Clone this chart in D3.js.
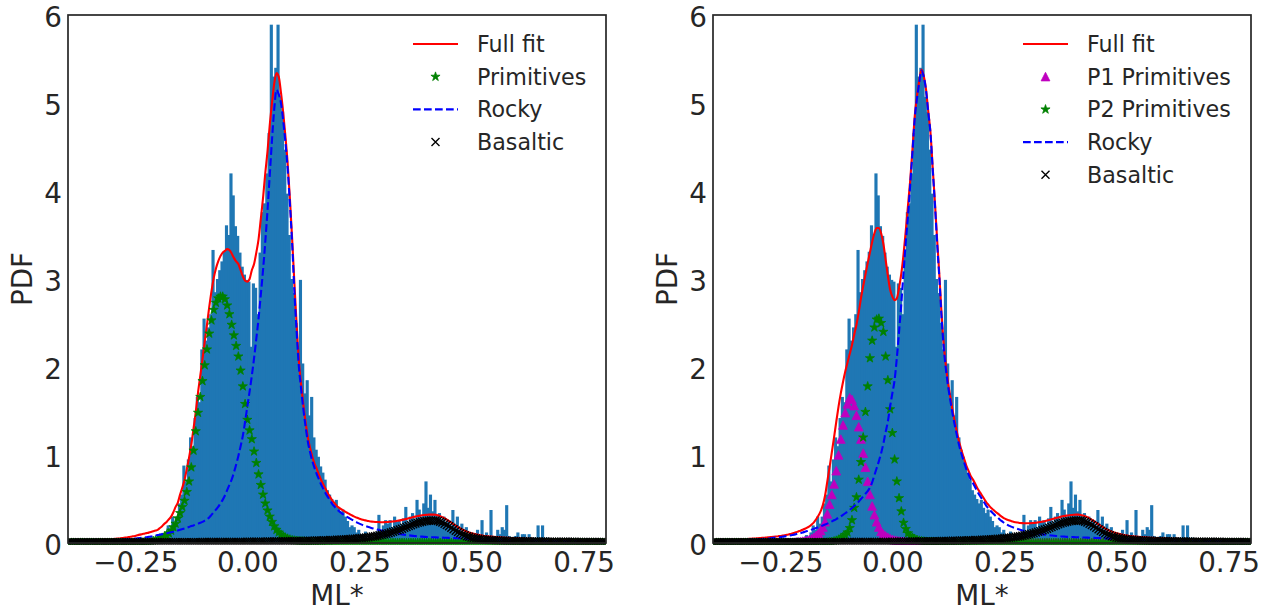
<!DOCTYPE html>
<html>
<head>
<meta charset="utf-8">
<script src="https://cdn.jsdelivr.net/npm/d3@7"></script>
<style>
  body { margin: 0; background: #fff; }
  svg text { font-family: "DejaVu Sans", sans-serif; fill: #262626; }
</style>
</head>
<body>
<svg id="chart" width="1274" height="615"></svg>
<script>
// axes
const xDomain = [-0.4, 0.8];
const yDomain = [0, 6];
const xTicks = [-0.25, 0, 0.25, 0.5, 0.75];
const yTicks = [0, 1, 2, 3, 4, 5, 6];

// histogram of ML* (density), bins of 0.005 starting at -0.225, same sample in both panels
const binStart = -0.225;
const binWidth = 0.005;
const mlDensity = [
  0.03, 0, 0.06, 0.05, 0, 0.06, 0.09, 0.06, 0.12, 0.2, 0.15, 0.3, 0.22, 0.3, 0.45, 0.55, 0.88, 0.7, 0.95, 1.2,
  1.1, 1.42, 1.66, 1.6, 2.2, 2.55, 2.3, 2.45, 2.6, 3.33, 2.85, 3.0, 3.1, 3.2, 3.31, 3.61, 3.5, 4.2, 3.95, 3.6,
  3.49, 3.3, 3.14, 3.05, 2.99, 2.97, 2.23, 2.95, 2.9, 2.6, 3.3, 3.76, 3.86, 4.2, 4.66, 5.89, 5.3, 5.4, 5.89, 5.07,
  4.9, 4.47, 3.97, 3.5, 3.0, 2.84, 2.5, 2.2, 2.99, 2.04, 1.7, 1.85, 1.45, 1.66, 1.2, 1.06, 0.98, 0.87, 0.8, 0.72,
  0.6, 0.55, 0.5, 0.45, 0.49, 0.4, 0.34, 0.38, 0.3, 0.25, 0.18, 0.2, 0.18, 0.12, 0.15, 0.1, 0.08, 0.13, 0.06, 0.1,
  0.08, 0.05, 0.12, 0.32, 0.1, 0.2, 0.26, 0.22, 0.26, 0.18, 0.3, 0.24, 0.26, 0.2, 0.28, 0.41, 0.22, 0.3, 0.34, 0.26,
  0.49, 0.38, 0.3, 0.45, 0.7, 0.4, 0.55, 0.36, 0.49, 0.3, 0.34, 0.25, 0.3, 0.22, 0.26, 0.18, 0.375, 0.2, 0.3, 0.15,
  0.22, 0.1, 0.18, 0.08, 0.12, 0.06, 0.1, 0.15, 0.08, 0.26, 0.06, 0.12, 0.06, 0.375, 0.08, 0.06, 0.15, 0.1, 0.18, 0.15,
  0.43, 0.08, 0.06, 0.03, 0.08, 0.12, 0.06, 0.1, 0.1, 0.06, 0.1, 0.03, 0.06, 0.03, 0.2, 0.03, 0.2, 0.03, 0.06, 0.03,
  0,
];

// fitted curves, sampled every 0.005 from -0.4 to 0.8 (one row = 0.1 in ML*)
const curveStart = -0.4;
const curveStep = 0.005;

// left panel
const fullFitA = [
  0.02, 0.021, 0.022, 0.023, 0.024, 0.025, 0.026, 0.027, 0.028, 0.029, 0.03, 0.031, 0.032, 0.033, 0.035, 0.036, 0.038, 0.039, 0.041, 0.043,
  0.045, 0.047, 0.05, 0.052, 0.055, 0.06, 0.063, 0.067, 0.071, 0.076, 0.08, 0.088, 0.095, 0.1, 0.106, 0.112, 0.118, 0.125, 0.133, 0.141,
  0.15, 0.17, 0.19, 0.22, 0.24, 0.27, 0.3, 0.35, 0.41, 0.46, 0.55, 0.63, 0.72, 0.84, 0.97, 1.12, 1.3, 1.49, 1.71, 1.9,
  2.09, 2.29, 2.48, 2.68, 2.86, 3.01, 3.12, 3.2, 3.26, 3.3, 3.32, 3.34, 3.33, 3.29, 3.24, 3.2, 3.17, 3.1, 3.03, 2.98,
  2.97, 3.0, 3.1, 3.17, 3.3, 3.45, 3.68, 3.92, 4.2, 4.45, 4.75, 5.0, 5.22, 5.34, 5.3, 5.12, 4.89, 4.62, 4.31, 3.91,
  3.45, 2.95, 2.48, 2.07, 1.8, 1.57, 1.37, 1.2, 1.08, 0.98, 0.9, 0.84, 0.77, 0.71, 0.66, 0.61, 0.56, 0.52, 0.48, 0.45,
  0.419, 0.4, 0.382, 0.365, 0.35, 0.336, 0.323, 0.31, 0.297, 0.286, 0.276, 0.268, 0.261, 0.255, 0.249, 0.245, 0.242, 0.239, 0.238, 0.237,
  0.236, 0.237, 0.238, 0.24, 0.242, 0.245, 0.248, 0.252, 0.257, 0.263, 0.268, 0.274, 0.281, 0.288, 0.294, 0.3, 0.306, 0.311, 0.315, 0.318,
  0.32, 0.322, 0.323, 0.323, 0.32, 0.314, 0.305, 0.294, 0.281, 0.265, 0.249, 0.231, 0.213, 0.196, 0.18, 0.165, 0.151, 0.139, 0.129, 0.12,
  0.111, 0.104, 0.098, 0.093, 0.088, 0.084, 0.08, 0.077, 0.074, 0.072, 0.07, 0.067, 0.065, 0.064, 0.062, 0.06, 0.059, 0.057, 0.056, 0.055,
  0.053, 0.053, 0.051, 0.051, 0.049, 0.049, 0.047, 0.047, 0.046, 0.045, 0.044, 0.043, 0.043, 0.042, 0.041, 0.04, 0.04, 0.04, 0.038, 0.038,
  0.037, 0.037, 0.036, 0.035, 0.035, 0.035, 0.034, 0.033, 0.033, 0.033, 0.032, 0.032, 0.031, 0.031, 0.03, 0.03, 0.03, 0.03, 0.029, 0.028,
  0.028,
];
const primitivesA = [
  0, 0, 0, 0, 0, 0, 0, 0, 0, 0, 0, 0, 0, 0, 0, 0, 0, 0, 0, 0,
  0, 0, 0, 0, 0, 0.001, 0.001, 0.002, 0.002, 0.003, 0.004, 0.005, 0.006, 0.008, 0.01, 0.012, 0.015, 0.019, 0.024, 0.03,
  0.04, 0.05, 0.06, 0.075, 0.09, 0.11, 0.14, 0.18, 0.22, 0.28, 0.34, 0.41, 0.48, 0.58, 0.7, 0.86, 1.05, 1.27, 1.48, 1.66,
  1.84, 2.02, 2.2, 2.38, 2.53, 2.65, 2.73, 2.78, 2.8, 2.8, 2.77, 2.7, 2.6, 2.48, 2.36, 2.24, 2.12, 1.96, 1.78, 1.58,
  1.4, 1.28, 1.18, 1.04, 0.91, 0.78, 0.66, 0.55, 0.45, 0.37, 0.3, 0.24, 0.19, 0.15, 0.12, 0.095, 0.075, 0.06, 0.05, 0.04,
  0.032, 0.028, 0.024, 0.021, 0.018, 0.016, 0.014, 0.012, 0.011, 0.01, 0.009, 0.008, 0.007, 0.006, 0.006, 0.005, 0.005, 0.004, 0.004, 0.004,
  0.003, 0.003, 0.003, 0.003, 0.003, 0.003, 0.003, 0.003, 0.003, 0.003, 0.002, 0.002, 0.002, 0.002, 0.002, 0.002, 0.002, 0.002, 0.002, 0.002,
  0.002, 0.002, 0.002, 0.002, 0.002, 0.002, 0.002, 0.002, 0.002, 0.002, 0.001, 0.001, 0.001, 0.001, 0.001, 0.001, 0.001, 0.001, 0.001, 0.001,
  0.001, 0.001, 0.001, 0.001, 0.001, 0.001, 0.001, 0.001, 0.001, 0.001, 0.001, 0.001, 0.001, 0.001, 0.001, 0.001, 0.001, 0.001, 0.001, 0.001,
  0, 0, 0, 0, 0, 0, 0, 0, 0, 0, 0, 0, 0, 0, 0, 0, 0, 0, 0, 0,
  0, 0, 0, 0, 0, 0, 0, 0, 0, 0, 0, 0, 0, 0, 0, 0, 0, 0, 0, 0,
  0, 0, 0, 0, 0, 0, 0, 0, 0, 0, 0, 0, 0, 0, 0, 0, 0, 0, 0, 0,
  0,
];
const rockyA = [
  0.012, 0.012, 0.013, 0.013, 0.014, 0.014, 0.015, 0.016, 0.016, 0.017, 0.018, 0.019, 0.02, 0.021, 0.022, 0.023, 0.024, 0.025, 0.027, 0.028,
  0.03, 0.031, 0.033, 0.035, 0.037, 0.039, 0.041, 0.043, 0.045, 0.048, 0.05, 0.053, 0.056, 0.059, 0.062, 0.066, 0.07, 0.074, 0.079, 0.084,
  0.09, 0.095, 0.1, 0.105, 0.11, 0.116, 0.122, 0.128, 0.135, 0.142, 0.15, 0.158, 0.166, 0.174, 0.183, 0.192, 0.2, 0.21, 0.22, 0.23,
  0.24, 0.255, 0.27, 0.29, 0.32, 0.35, 0.38, 0.41, 0.45, 0.49, 0.54, 0.6, 0.66, 0.72, 0.8, 0.89, 0.99, 1.1, 1.22, 1.38,
  1.55, 1.72, 1.9, 2.1, 2.32, 2.55, 2.82, 3.1, 3.42, 3.78, 4.18, 4.58, 4.93, 5.15, 5.1, 5.0, 4.8, 4.55, 4.25, 3.85,
  3.4, 2.85, 2.4, 2.0, 1.75, 1.52, 1.32, 1.15, 1.03, 0.93, 0.85, 0.78, 0.72, 0.66, 0.61, 0.56, 0.52, 0.48, 0.44, 0.41,
  0.38, 0.36, 0.34, 0.322, 0.305, 0.29, 0.275, 0.26, 0.245, 0.232, 0.22, 0.209, 0.199, 0.19, 0.181, 0.173, 0.166, 0.159, 0.153, 0.147,
  0.141, 0.136, 0.131, 0.126, 0.121, 0.116, 0.111, 0.106, 0.102, 0.098, 0.094, 0.09, 0.087, 0.084, 0.081, 0.078, 0.076, 0.074, 0.072, 0.07,
  0.068, 0.067, 0.066, 0.065, 0.064, 0.063, 0.062, 0.061, 0.06, 0.059, 0.058, 0.057, 0.056, 0.055, 0.054, 0.053, 0.052, 0.051, 0.05, 0.049,
  0.048, 0.047, 0.046, 0.045, 0.044, 0.043, 0.042, 0.041, 0.04, 0.04, 0.039, 0.038, 0.037, 0.037, 0.036, 0.035, 0.035, 0.034, 0.033, 0.033,
  0.032, 0.032, 0.031, 0.031, 0.03, 0.03, 0.029, 0.029, 0.028, 0.028, 0.027, 0.027, 0.027, 0.026, 0.026, 0.025, 0.025, 0.025, 0.024, 0.024,
  0.023, 0.023, 0.023, 0.022, 0.022, 0.022, 0.021, 0.021, 0.021, 0.021, 0.02, 0.02, 0.02, 0.02, 0.019, 0.019, 0.019, 0.019, 0.018, 0.018,
  0.018,
];
// basaltic component, same in both fits
const basaltic = [
  0.008, 0.008, 0.008, 0.008, 0.008, 0.008, 0.008, 0.008, 0.008, 0.008, 0.008, 0.008, 0.008, 0.008, 0.008, 0.008, 0.008, 0.008, 0.008, 0.008,
  0.009, 0.009, 0.009, 0.009, 0.009, 0.009, 0.009, 0.009, 0.009, 0.009, 0.009, 0.009, 0.009, 0.009, 0.009, 0.009, 0.009, 0.009, 0.009, 0.009,
  0.01, 0.01, 0.01, 0.01, 0.01, 0.01, 0.01, 0.01, 0.01, 0.01, 0.01, 0.01, 0.01, 0.01, 0.01, 0.01, 0.01, 0.01, 0.01, 0.01,
  0.011, 0.011, 0.011, 0.011, 0.011, 0.011, 0.011, 0.011, 0.011, 0.011, 0.012, 0.012, 0.012, 0.012, 0.012, 0.012, 0.012, 0.012, 0.012, 0.012,
  0.013, 0.013, 0.013, 0.014, 0.014, 0.014, 0.015, 0.015, 0.015, 0.016, 0.016, 0.017, 0.017, 0.017, 0.018, 0.018, 0.019, 0.019, 0.02, 0.02,
  0.021, 0.021, 0.022, 0.022, 0.023, 0.024, 0.024, 0.025, 0.026, 0.026, 0.027, 0.028, 0.029, 0.029, 0.03, 0.031, 0.032, 0.033, 0.034, 0.035,
  0.036, 0.037, 0.039, 0.04, 0.042, 0.043, 0.045, 0.047, 0.049, 0.051, 0.054, 0.057, 0.06, 0.063, 0.066, 0.07, 0.074, 0.078, 0.083, 0.088,
  0.093, 0.099, 0.105, 0.112, 0.119, 0.127, 0.135, 0.144, 0.153, 0.163, 0.173, 0.183, 0.193, 0.203, 0.212, 0.221, 0.229, 0.236, 0.242, 0.247,
  0.251, 0.254, 0.256, 0.257, 0.255, 0.25, 0.242, 0.232, 0.22, 0.205, 0.19, 0.173, 0.156, 0.14, 0.125, 0.111, 0.098, 0.087, 0.078, 0.07,
  0.063, 0.057, 0.052, 0.048, 0.044, 0.041, 0.038, 0.036, 0.034, 0.032, 0.031, 0.029, 0.028, 0.027, 0.026, 0.025, 0.024, 0.023, 0.023, 0.022,
  0.021, 0.021, 0.02, 0.02, 0.019, 0.019, 0.018, 0.018, 0.018, 0.017, 0.017, 0.016, 0.016, 0.016, 0.015, 0.015, 0.015, 0.015, 0.014, 0.014,
  0.014, 0.014, 0.013, 0.013, 0.013, 0.013, 0.013, 0.012, 0.012, 0.012, 0.012, 0.012, 0.011, 0.011, 0.011, 0.011, 0.011, 0.011, 0.011, 0.01,
  0.01,
];

// right panel
const fullFitB = [
  0.028, 0.029, 0.03, 0.031, 0.032, 0.033, 0.034, 0.035, 0.036, 0.037, 0.038, 0.04, 0.041, 0.042, 0.044, 0.045, 0.047, 0.048, 0.05, 0.052,
  0.054, 0.056, 0.058, 0.06, 0.063, 0.065, 0.068, 0.071, 0.074, 0.077, 0.08, 0.084, 0.088, 0.093, 0.099, 0.105, 0.113, 0.121, 0.131, 0.14,
  0.15, 0.162, 0.175, 0.19, 0.21, 0.235, 0.27, 0.31, 0.36, 0.43, 0.54, 0.7, 0.86, 1.03, 1.2, 1.38, 1.55, 1.7, 1.83, 1.95,
  2.05, 2.15, 2.25, 2.37, 2.48, 2.62, 2.78, 2.92, 3.05, 3.18, 3.3, 3.42, 3.52, 3.58, 3.58, 3.52, 3.4, 3.22, 3.04, 2.88,
  2.8, 2.76, 2.78, 2.9, 3.06, 3.28, 3.55, 3.84, 4.13, 4.48, 4.85, 5.08, 5.25, 5.38, 5.31, 5.16, 4.91, 4.67, 4.27, 3.87,
  3.44, 3.04, 2.59, 2.24, 1.99, 1.8, 1.64, 1.49, 1.36, 1.24, 1.13, 1.04, 0.96, 0.88, 0.82, 0.76, 0.72, 0.67, 0.62, 0.58,
  0.54, 0.5, 0.46, 0.43, 0.4, 0.378, 0.355, 0.337, 0.314, 0.296, 0.279, 0.267, 0.258, 0.249, 0.241, 0.236, 0.232, 0.228, 0.226, 0.225,
  0.224, 0.225, 0.226, 0.228, 0.23, 0.234, 0.238, 0.243, 0.248, 0.255, 0.262, 0.269, 0.276, 0.283, 0.29, 0.297, 0.303, 0.308, 0.312, 0.316,
  0.319, 0.321, 0.322, 0.322, 0.319, 0.313, 0.304, 0.293, 0.28, 0.264, 0.248, 0.23, 0.212, 0.195, 0.179, 0.164, 0.15, 0.138, 0.128, 0.119,
  0.111, 0.104, 0.098, 0.093, 0.088, 0.084, 0.08, 0.077, 0.074, 0.072, 0.07, 0.067, 0.065, 0.064, 0.062, 0.06, 0.059, 0.057, 0.056, 0.055,
  0.053, 0.053, 0.051, 0.051, 0.049, 0.049, 0.047, 0.047, 0.046, 0.045, 0.044, 0.043, 0.043, 0.042, 0.041, 0.04, 0.04, 0.04, 0.038, 0.038,
  0.037, 0.037, 0.036, 0.035, 0.035, 0.035, 0.034, 0.033, 0.033, 0.033, 0.032, 0.032, 0.031, 0.031, 0.03, 0.03, 0.03, 0.03, 0.029, 0.028,
  0.028,
];
const p1PrimitivesB = [
  0, 0, 0, 0, 0, 0, 0, 0, 0, 0, 0, 0, 0, 0, 0, 0, 0, 0, 0, 0,
  0, 0, 0, 0, 0, 0, 0.001, 0.001, 0.001, 0.002, 0.002, 0.003, 0.003, 0.004, 0.005, 0.006, 0.008, 0.01, 0.013, 0.016,
  0.02, 0.025, 0.03, 0.04, 0.05, 0.065, 0.085, 0.11, 0.14, 0.18, 0.24, 0.33, 0.44, 0.55, 0.67, 0.82, 1.0, 1.18, 1.34, 1.48,
  1.58, 1.65, 1.63, 1.56, 1.45, 1.32, 1.18, 1.02, 0.86, 0.7, 0.55, 0.42, 0.32, 0.24, 0.18, 0.13, 0.1, 0.08, 0.065, 0.05,
  0.04, 0.032, 0.026, 0.021, 0.017, 0.014, 0.012, 0.01, 0.008, 0.007, 0.006, 0.005, 0.004, 0.004, 0.003, 0.003, 0.003, 0.002, 0.002, 0.002,
  0.002, 0.002, 0.002, 0.002, 0.002, 0.002, 0.002, 0.002, 0.002, 0.002, 0.001, 0.001, 0.001, 0.001, 0.001, 0.001, 0.001, 0.001, 0.001, 0.001,
  0, 0, 0, 0, 0, 0, 0, 0, 0, 0, 0, 0, 0, 0, 0, 0, 0, 0, 0, 0,
  0, 0, 0, 0, 0, 0, 0, 0, 0, 0, 0, 0, 0, 0, 0, 0, 0, 0, 0, 0,
  0, 0, 0, 0, 0, 0, 0, 0, 0, 0, 0, 0, 0, 0, 0, 0, 0, 0, 0, 0,
  0, 0, 0, 0, 0, 0, 0, 0, 0, 0, 0, 0, 0, 0, 0, 0, 0, 0, 0, 0,
  0, 0, 0, 0, 0, 0, 0, 0, 0, 0, 0, 0, 0, 0, 0, 0, 0, 0, 0, 0,
  0, 0, 0, 0, 0, 0, 0, 0, 0, 0, 0, 0, 0, 0, 0, 0, 0, 0, 0, 0,
  0,
];
const p2PrimitivesB = [
  0, 0, 0, 0, 0, 0, 0, 0, 0, 0, 0, 0, 0, 0, 0, 0, 0, 0, 0, 0,
  0, 0, 0, 0, 0, 0, 0, 0, 0, 0, 0, 0, 0, 0, 0, 0, 0, 0, 0, 0,
  0, 0, 0, 0.001, 0.001, 0.001, 0.001, 0.002, 0.002, 0.003, 0.004, 0.006, 0.009, 0.013, 0.019, 0.027, 0.038, 0.052, 0.07, 0.092,
  0.12, 0.17, 0.26, 0.4, 0.52, 0.72, 0.92, 1.2, 1.49, 1.78, 2.1, 2.3, 2.45, 2.54, 2.55, 2.5, 2.4, 2.12, 1.85, 1.52,
  1.25, 0.95, 0.7, 0.51, 0.36, 0.23, 0.16, 0.11, 0.08, 0.06, 0.045, 0.035, 0.027, 0.021, 0.017, 0.014, 0.011, 0.009, 0.008, 0.007,
  0.006, 0.005, 0.005, 0.004, 0.004, 0.003, 0.003, 0.003, 0.002, 0.002, 0.002, 0.002, 0.002, 0.002, 0.002, 0.002, 0.002, 0.002, 0.002, 0.002,
  0.001, 0.001, 0.001, 0.001, 0.001, 0.001, 0.001, 0.001, 0.001, 0.001, 0.001, 0.001, 0.001, 0.001, 0.001, 0.001, 0.001, 0.001, 0.001, 0.001,
  0, 0, 0, 0, 0, 0, 0, 0, 0, 0, 0, 0, 0, 0, 0, 0, 0, 0, 0, 0,
  0, 0, 0, 0, 0, 0, 0, 0, 0, 0, 0, 0, 0, 0, 0, 0, 0, 0, 0, 0,
  0, 0, 0, 0, 0, 0, 0, 0, 0, 0, 0, 0, 0, 0, 0, 0, 0, 0, 0, 0,
  0, 0, 0, 0, 0, 0, 0, 0, 0, 0, 0, 0, 0, 0, 0, 0, 0, 0, 0, 0,
  0, 0, 0, 0, 0, 0, 0, 0, 0, 0, 0, 0, 0, 0, 0, 0, 0, 0, 0, 0,
  0,
];
const rockyB = [
  0.02, 0.021, 0.021, 0.022, 0.023, 0.024, 0.025, 0.026, 0.027, 0.028, 0.029, 0.03, 0.031, 0.032, 0.033, 0.034, 0.036, 0.037, 0.039, 0.04,
  0.042, 0.044, 0.046, 0.048, 0.05, 0.052, 0.055, 0.058, 0.061, 0.064, 0.067, 0.071, 0.075, 0.079, 0.084, 0.089, 0.094, 0.1, 0.106, 0.112,
  0.12, 0.127, 0.135, 0.143, 0.152, 0.161, 0.17, 0.18, 0.19, 0.2, 0.21, 0.22, 0.232, 0.245, 0.258, 0.272, 0.287, 0.303, 0.32, 0.338,
  0.357, 0.377, 0.398, 0.42, 0.445, 0.47, 0.5, 0.53, 0.56, 0.59, 0.63, 0.69, 0.77, 0.85, 0.93, 1.02, 1.13, 1.26, 1.38, 1.55,
  1.7, 1.85, 2.1, 2.4, 2.72, 3.08, 3.42, 3.72, 4.08, 4.45, 4.83, 5.05, 5.23, 5.37, 5.3, 5.15, 4.9, 4.66, 4.25, 3.85,
  3.4, 3.0, 2.55, 2.2, 1.95, 1.76, 1.6, 1.45, 1.32, 1.2, 1.09, 1.0, 0.92, 0.84, 0.78, 0.72, 0.68, 0.63, 0.58, 0.54,
  0.5, 0.46, 0.42, 0.39, 0.36, 0.335, 0.31, 0.29, 0.265, 0.245, 0.225, 0.21, 0.198, 0.186, 0.175, 0.166, 0.158, 0.15, 0.143, 0.137,
  0.131, 0.126, 0.121, 0.116, 0.111, 0.107, 0.103, 0.099, 0.095, 0.092, 0.089, 0.086, 0.083, 0.08, 0.078, 0.076, 0.074, 0.072, 0.07, 0.069,
  0.068, 0.067, 0.066, 0.065, 0.064, 0.063, 0.062, 0.061, 0.06, 0.059, 0.058, 0.057, 0.056, 0.055, 0.054, 0.053, 0.052, 0.051, 0.05, 0.049,
  0.048, 0.047, 0.046, 0.045, 0.044, 0.043, 0.042, 0.041, 0.04, 0.04, 0.039, 0.038, 0.037, 0.037, 0.036, 0.035, 0.035, 0.034, 0.033, 0.033,
  0.032, 0.032, 0.031, 0.031, 0.03, 0.03, 0.029, 0.029, 0.028, 0.028, 0.027, 0.027, 0.027, 0.026, 0.026, 0.025, 0.025, 0.025, 0.024, 0.024,
  0.023, 0.023, 0.023, 0.022, 0.022, 0.022, 0.021, 0.021, 0.021, 0.021, 0.02, 0.02, 0.02, 0.02, 0.019, 0.019, 0.019, 0.019, 0.018, 0.018,
  0.018,
];

const gridX = fullFitA.map((d, i) => curveStart + i * curveStep);

// layout
const plotTop = 15;
const plotBottom = 543;
const tickFont = 27.8;
const legendFont = 22.2;

const markerPaths = {
  star: d3.symbol().type(d3.symbolStar).size(26)(),
  triangle: 'M0,-4.4L4.4,4.2L-4.4,4.2Z',
  cross: 'M-4,-4L4,4M-4,4L4,-4',
};

const panels = [
  {
    id: 'a',
    left: 68,
    right: 606,
    labelX: 32,
    legendX: 413,
    series: [
      { name: 'Full fit', kind: 'line', color: '#ff0000', values: fullFitA },
      { name: 'Primitives', kind: 'star', color: '#008000', values: primitivesA },
      { name: 'Rocky', kind: 'line', color: '#0000ff', dash: '7.7,3.3', values: rockyA },
      { name: 'Basaltic', kind: 'cross', color: '#000000', values: basaltic },
    ],
  },
  {
    id: 'b',
    left: 713,
    right: 1251,
    labelX: 677,
    legendX: 1023,
    series: [
      { name: 'Full fit', kind: 'line', color: '#ff0000', values: fullFitB },
      { name: 'P1 Primitives', kind: 'triangle', color: '#bf00bf', values: p1PrimitivesB },
      { name: 'P2 Primitives', kind: 'star', color: '#008000', values: p2PrimitivesB },
      { name: 'Rocky', kind: 'line', color: '#0000ff', dash: '7.7,3.3', values: rockyB },
      { name: 'Basaltic', kind: 'cross', color: '#000000', values: basaltic },
    ],
  },
];

const svg = d3.select('#chart');

function styleMarker(sel, s) {
  if (s.kind === 'cross') {
    sel.attr('fill', 'none').attr('stroke', s.color).attr('stroke-width', 1.4);
  } else {
    sel.attr('fill', s.color).attr('stroke', s.color).attr('stroke-width', 0.8);
  }
}

function drawPanel(panel) {
  const x = d3.scaleLinear().domain(xDomain).range([panel.left, panel.right]);
  const y = d3.scaleLinear().domain(yDomain).range([plotBottom, plotTop]);
  const g = svg.append('g');

  const clipId = `clip-${panel.id}`;
  svg.append('clipPath').attr('id', clipId)
    .append('rect')
    .attr('x', panel.left)
    .attr('y', plotTop)
    .attr('width', panel.right - panel.left)
    .attr('height', plotBottom - plotTop + 1.5);

  const plot = g.append('g').attr('clip-path', `url(#${clipId})`);

  // histogram, bars overlap a little so no seams show between them
  plot.append('g').selectAll('rect')
    .data(mlDensity)
    .join('rect')
    .attr('x', (d, i) => x(binStart + i * binWidth))
    .attr('width', x(binWidth) - x(0) + 0.9)
    .attr('y', (d) => y(d))
    .attr('height', (d) => y(0) - y(d))
    .attr('fill', '#1f77b4');

  const line = d3.line()
    .x((d, i) => x(gridX[i]))
    .y((d) => y(d))
    .curve(d3.curveMonotoneX);

  panel.series.forEach((s) => {
    if (s.kind === 'line') {
      plot.append('path')
        .datum(s.values)
        .attr('fill', 'none')
        .attr('stroke', s.color)
        .attr('stroke-width', 2.1)
        .attr('stroke-dasharray', s.dash || null)
        .attr('d', line);
    } else {
      plot.append('g').selectAll('path')
        .data(s.values)
        .join('path')
        .attr('transform', (d, i) => `translate(${x(gridX[i])},${y(d)})`)
        .attr('d', markerPaths[s.kind])
        .call(styleMarker, s);
    }
  });

  // frame
  g.append('rect')
    .attr('x', panel.left)
    .attr('y', plotTop)
    .attr('width', panel.right - panel.left)
    .attr('height', plotBottom - plotTop)
    .attr('fill', 'none')
    .attr('stroke', '#262626')
    .attr('stroke-width', 1.7);

  // axes
  g.append('g')
    .attr('transform', `translate(0,${plotBottom})`)
    .call(d3.axisBottom(x).tickValues(xTicks).tickSize(0).tickPadding(9).tickFormat(d3.format('.2f')))
    .call((a) => a.select('.domain').remove())
    .attr('font-size', tickFont)
    .attr('font-family', null);

  g.append('g')
    .attr('transform', `translate(${panel.left},0)`)
    .call(d3.axisLeft(y).tickValues(yTicks).tickSize(0).tickPadding(6).tickFormat(d3.format('d')))
    .call((a) => a.select('.domain').remove())
    .attr('font-size', tickFont)
    .attr('font-family', null)
    .call((a) => a.selectAll('text').attr('dy', '0.42em'));

  g.append('text')
    .attr('x', (panel.left + panel.right) / 2)
    .attr('y', 605)
    .attr('text-anchor', 'middle')
    .attr('font-size', tickFont)
    .text('ML*');

  g.append('text')
    .attr('transform', `translate(${panel.labelX},${(plotTop + plotBottom) / 2}) rotate(-90)`)
    .attr('text-anchor', 'middle')
    .attr('font-size', tickFont)
    .text('PDF');

  // legend
  const legend = g.append('g');
  panel.series.forEach((s, i) => {
    const cy = 44 + i * 32.7;
    if (s.kind === 'line') {
      legend.append('line')
        .attr('x1', panel.legendX)
        .attr('x2', panel.legendX + 45)
        .attr('y1', cy)
        .attr('y2', cy)
        .attr('stroke', s.color)
        .attr('stroke-width', 2.1)
        .attr('stroke-dasharray', s.dash || null);
    } else {
      legend.append('path')
        .attr('transform', `translate(${panel.legendX + 22.5},${cy})`)
        .attr('d', markerPaths[s.kind])
        .call(styleMarker, s);
    }
    legend.append('text')
      .attr('x', panel.legendX + 64)
      .attr('y', cy + 8)
      .attr('font-size', legendFont)
      .text(s.name);
  });
}

panels.forEach(drawPanel);
</script>
</body>
</html>
